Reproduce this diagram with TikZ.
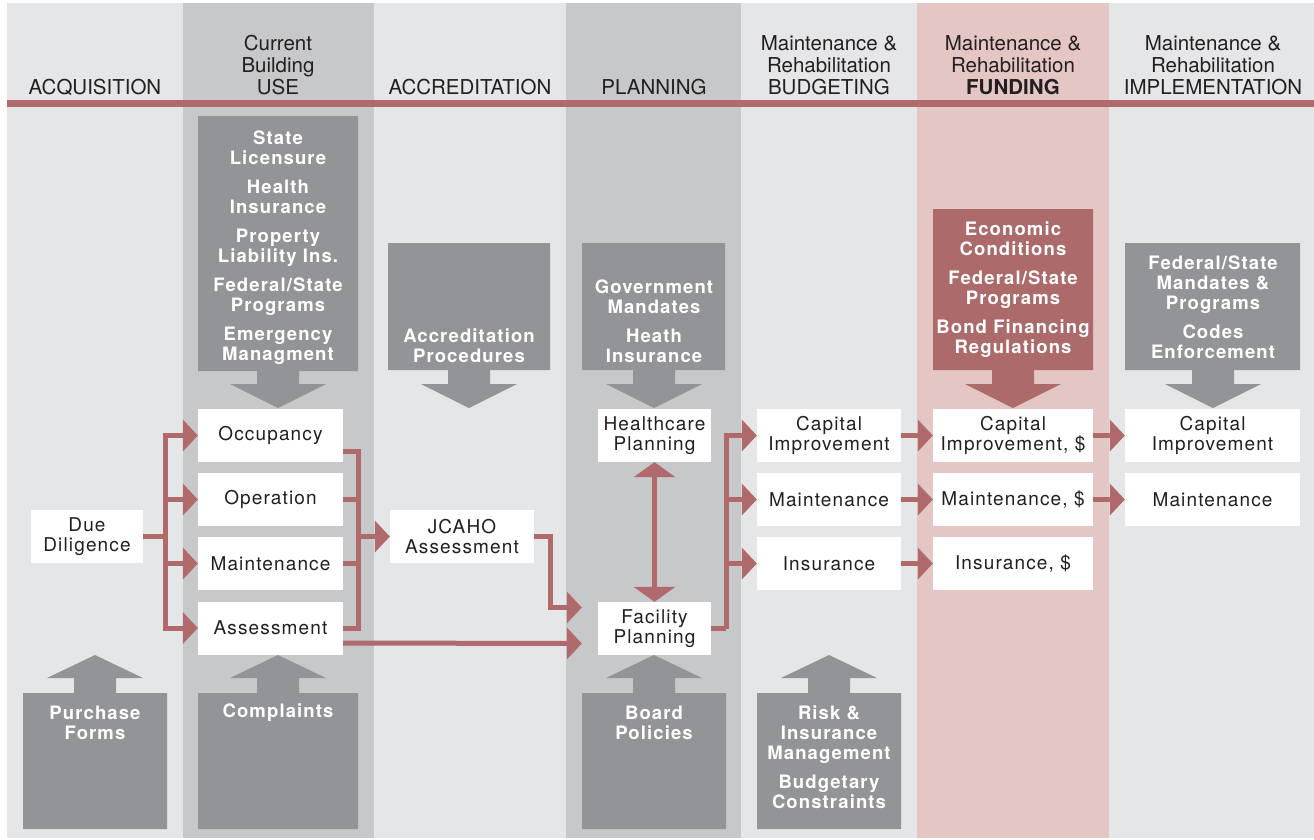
\documentclass[tikz,border=0pt]{standalone}
\usepackage{fontspec}
\setmainfont{TeX Gyre Heros}
\newfontfamily\hfont{TeX Gyre Heros}
\newfontfamily\bxfont[LetterSpace=6]{TeX Gyre Heros}
\newfontfamily\gyfont[LetterSpace=6]{TeX Gyre Heros}
\usetikzlibrary{arrows.meta}
\definecolor{bgL}{HTML}{E5E6E8}
\definecolor{bgD}{HTML}{C7C8CA}
\definecolor{bgP}{HTML}{E4C6C4}
\definecolor{gbox}{HTML}{939498}
\definecolor{rbox}{HTML}{AD6A6B}
\definecolor{arr}{HTML}{B06A6B}
\definecolor{txt}{HTML}{231F20}
\newcommand\dnbox[6]{%
  \fill[#6] (#1,#2) -- (#3,#2) -- (#3,#4) -- ({#5+21},#4) -- ({#5+21},384) -- ({#5+48},384) -- (#5,408) -- ({#5-48},384) -- ({#5-21},384) -- ({#5-21},#4) -- (#1,#4) -- cycle;}
\newcommand\upbox[4]{%
  \fill[gbox] (#1,829) -- (#2,829) -- (#2,693) -- ({#3+21},693) -- ({#3+21},678) -- ({#3+48},678) -- (#3,655) -- ({#3-48},678) -- ({#3-21},678) -- ({#3-21},693) -- (#1,693) -- cycle;}
\begin{document}
\begin{tikzpicture}[x=1pt,y=-1pt,
  hdr/.style={font=\hfont\fontsize{20.5}{22}\selectfont, align=center, text=txt, inner sep=0pt},
  wbox/.style={fill=white, inner sep=0pt, align=center, font=\bxfont\fontsize{19}{20}\selectfont, text=txt, minimum height=53pt},
  gtxt/.style={font=\gyfont\bfseries\fontsize{18.5}{20}\selectfont, text=white, align=center, inner sep=0pt},
  rl/.style={draw=arr, line width=5pt},
  tip/.style={-{Triangle[length=15pt,width=32pt,line width=0pt]}}]
\useasboundingbox (0,0) rectangle (1314,839);
\fill[white] (0,0) rectangle (1314,839);
% columns
\fill[bgL] (7,3) rectangle (1314,838);
\fill[bgD] (183,3) rectangle (374,838);
\fill[bgD] (566,3) rectangle (741,838);
\fill[bgP] (917,3) rectangle (1109,838);
\fill[arr] (7,100) rectangle (1314,107);
% headers
\node[hdr] (h1) at (95,87) {ACQUISITION};
\node[hdr] (h2) at (278,65) {Current\\Building\\USE};
\node[hdr] (h3) at (470,87) {ACCREDITATION};
\node[hdr] (h4) at (654,87) {PLANNING};
\node[hdr] (h5) at (829,65) {Maintenance \&\\Rehabilitation\\BUDGETING};
\node[hdr] (h6) at (1013,65) {Maintenance \&\\Rehabilitation\\\textbf{FUNDING}};
\node[hdr] (h7) at (1213,65) {Maintenance \&\\Rehabilitation\\IMPLEMENTATION};
% input arrow boxes (top)
\dnbox{198}{116}{358}{371}{278}{gbox}
\dnbox{388}{243}{550}{370}{469}{gbox}
\dnbox{582}{243}{725}{370}{654}{gbox}
\dnbox{933}{209}{1093}{370}{1013}{rbox}
\dnbox{1125}{243}{1300}{370}{1213}{gbox}
\node[gtxt] (tcur) at (278,248) {State\\Licensure\\[9pt]Health\\Insurance\\[9pt]Property\\Liability Ins.\\[9pt]Federal/State\\Programs\\[9pt]Emergency\\Managment};
\node[gtxt] (tacc) at (469,346) {Accreditation\\Procedures};
\node[gtxt] (tgov) at (654,321) {Government\\Mandates\\[9pt]Heath\\Insurance};
\node[gtxt] (teco) at (1013,290) {Economic\\Conditions\\[9pt]Federal/State\\Programs\\[9pt]Bond Financing\\Regulations};
\node[gtxt] (tfed) at (1213,307) {Federal/State\\Mandates \&\\Programs\\[9pt]Codes\\Enforcement};
% input arrow boxes (bottom)
\upbox{23}{167}{95}{}
\upbox{198}{358}{278}{}
\upbox{582}{726}{654}{}
\upbox{757}{901}{829}{}
\node[gtxt] (tpur) at (95,722.5) {Purchase\\Forms};
\node[gtxt] (tcom) at (278,713) {Complaints};
\node[gtxt] (tboa) at (654,722.5) {Board\\Policies};
\node[gtxt] (tris) at (829,757) {Risk \&\\Insurance\\Management\\[9pt]Budgetary\\Constraints};
% white boxes
\node[wbox, minimum width=112pt] (dd) at (87,536.5) {Due\\Diligence};
\node[wbox, minimum width=145pt] (occ) at (270.5,435.5) {Occupancy};
\node[wbox, minimum width=145pt] (op) at (270.5,499.5) {Operation};
\node[wbox, minimum width=145pt] (mt) at (270.5,563.5) {Maintenance};
\node[wbox, minimum width=145pt] (as) at (270.5,628) {Assessment};
\node[wbox, minimum width=144pt] (jc) at (462,536.5) {JCAHO\\Assessment};
\node[wbox, minimum width=113pt] (hp) at (654.5,435.5) {Healthcare\\Planning};
\node[wbox, minimum width=113pt] (fp) at (654.5,628.5) {Facility\\Planning};
\node[wbox, minimum width=144pt] (bc) at (829,435.5) {Capital\\Improvement};
\node[wbox, minimum width=144pt] (bm) at (829,499.5) {Maintenance};
\node[wbox, minimum width=144pt] (bi) at (829,563.5) {Insurance};
\node[wbox, minimum width=160pt] (fc) at (1013,435.5) {Capital\\Improvement, \$};
\node[wbox, minimum width=160pt] (fm) at (1013,499.5) {Maintenance, \$};
\node[wbox, minimum width=160pt] (fi) at (1013,563.5) {Insurance, \$};
\node[wbox, minimum width=175pt] (ic) at (1212.5,435.5) {Capital\\Improvement};
\node[wbox, minimum width=175pt] (im) at (1212.5,499.5) {Maintenance};
% connectors
\coordinate (jA) at (165,536.5);
\coordinate (jB) at (358,536.5);
\coordinate (jJ) at (550,536.5);
\coordinate (jC) at (726,628.5);
\coordinate (fin1) at ([xshift=-16pt,yshift=21pt]fp.west);
\coordinate (fin2) at ([xshift=-16pt,yshift=-15pt]fp.west);
\draw[rl] (dd.east) -- (jA);
\draw[rl,tip] (jA) |- (occ.west);
\draw[rl,tip] (jA) |- (op.west);
\draw[rl,tip] (jA) |- (mt.west);
\draw[rl,tip] (jA) |- (as.west);
\draw[rl] ([yshift=-16pt]occ.east) -| (jB);
\draw[rl] (op.east) -| (jB);
\draw[rl] (mt.east) -| (jB);
\draw[rl] (as.east) -| (jB);
\draw[rl,tip] (jB) -- (jc.west);
\draw[rl,tip] (jc.east) -- (jJ) |- (fin1);
\draw[rl,tip] ([yshift=-15pt]as.east) -- (fin2);
\draw[rl,{Triangle[length=15pt,width=42pt,line width=0pt]}-{Triangle[length=15pt,width=42pt,line width=0pt]}] (hp.south) -- (fp.north);
\draw[rl] (fp.east) -- (jC);
\draw[rl,tip] (jC) |- (bc.west);
\draw[rl,tip] (jC) |- (bm.west);
\draw[rl,tip] (jC) |- (bi.west);
\draw[rl,tip] (bc.east) -- (fc.west);
\draw[rl,tip] (bm.east) -- (fm.west);
\draw[rl,tip] (bi.east) -- (fi.west);
\draw[rl,tip] (fc.east) -- (ic.west);
\draw[rl,tip] (fm.east) -- (im.west);
\end{tikzpicture}
\end{document}
